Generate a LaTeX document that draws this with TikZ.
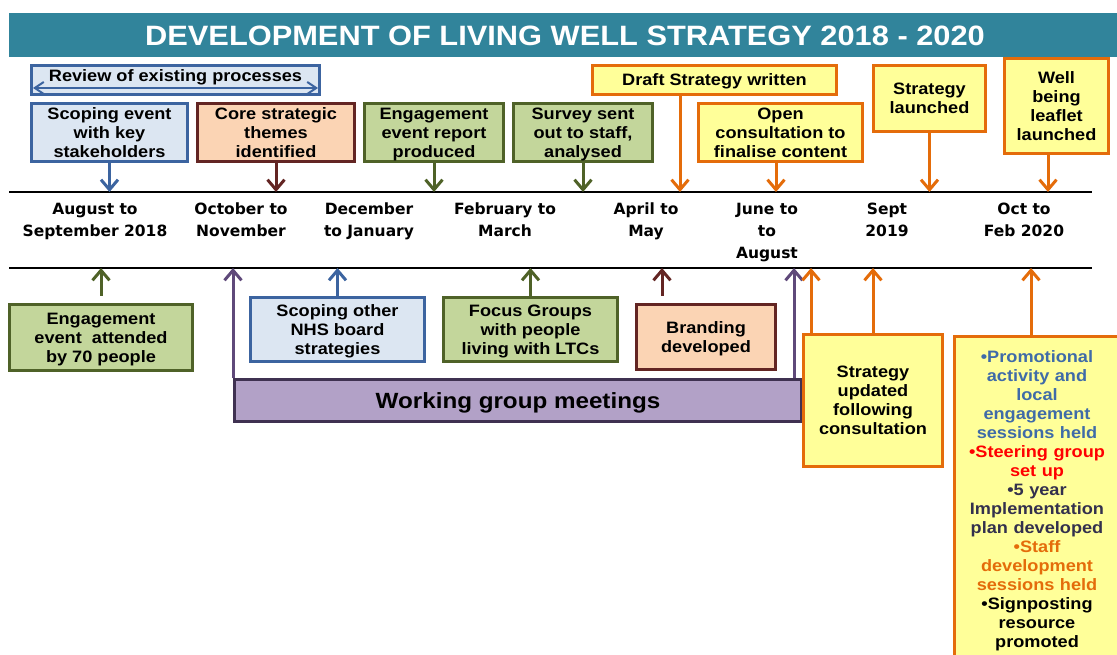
\documentclass[tikz,border=0pt]{standalone}
\usepackage{fontspec}
\setmainfont{Liberation Sans}[FakeStretch=1.1]
\newfontfamily\monthfont{DejaVu Sans}
\usetikzlibrary{arrows.meta}

\definecolor{titleteal}{HTML}{31849B}
\definecolor{blueline}{HTML}{3C64A0}
\definecolor{bluefill}{HTML}{DCE6F2}
\definecolor{redline}{HTML}{632523}
\definecolor{peachfill}{HTML}{FBD4B4}
\definecolor{greenline}{HTML}{4F6228}
\definecolor{greenfill}{HTML}{C3D69B}
\definecolor{orangeline}{HTML}{E46C0A}
\definecolor{yellowfill}{HTML}{FFFF99}
\definecolor{purpleline}{HTML}{3F3151}
\definecolor{purplearrow}{HTML}{5F497A}
\definecolor{purplefill}{HTML}{B2A1C7}
\definecolor{promoblue}{HTML}{3F6BA8}
\definecolor{plandark}{HTML}{33304D}

\begin{document}
\begin{tikzpicture}[x=1pt,y=-1pt,
    box/.style={draw, line width=3pt, align=center, inner sep=0pt, text depth=0pt, font=\bfseries\fontsize{16.5}{19}\selectfont},
    bluebox/.style={box, draw=blueline, fill=bluefill},
    redbox/.style={box, draw=redline, fill=peachfill},
    greenbox/.style={box, draw=greenline, fill=greenfill},
    yellowbox/.style={box, draw=orangeline, fill=yellowfill},
    month/.style={anchor=north, inner sep=0pt, align=center, font=\monthfont\bfseries\fontsize{15.5}{22}\selectfont},
    arr/.style={draw=#1, line width=3pt, -{Straight Barb[length=10pt,width=17pt]}},
    dblarr/.style={draw=blueline, line width=2pt, {Straight Barb[length=9pt,width=12pt]}-{Straight Barb[length=9pt,width=12pt]}},
    tline/.style={line width=2.5pt}]
  \clip (0,0) rectangle (1117,655);
  \useasboundingbox (0,0) rectangle (1117,655);

  % title bar
  \node[fill=titleteal, minimum width=1112pt, minimum height=44pt, inner sep=0pt, text=white,
        font=\bfseries\fontsize{28}{30}\selectfont] (title) at (565,35.5) {DEVELOPMENT OF LIVING WELL STRATEGY 2018 - 2020};

  % time line
  \coordinate (top-l) at (9,192);  \coordinate (top-r) at (1092,192);
  \coordinate (bot-l) at (9,268);  \coordinate (bot-r) at (1092,268);
  \draw[tline] (top-l) -- (top-r);
  \draw[tline] (bot-l) -- (bot-r);

  \node[month] (aug) at (95,203) {August to\\September 2018};
  \node[month] (oct) at (241,203) {October to\\November};
  \node[month] (dec) at (369,203) {December\\to January};
  \node[month] (feb) at (505,203) {February to\\March};
  \node[month] (apr) at (646,203) {April to\\May};
  \node[month] (jun) at (767,203) {June to\\to\\August};
  \node[month] (sep) at (887,203) {Sept\\2019};
  \node[month] (octfeb) at (1024,203) {Oct to\\Feb 2020};

  % above the line
  \node[bluebox, minimum width=288pt, minimum height=29pt] (review) at (175.5,80) {};
  \node[anchor=base, inner sep=0pt, font=\bfseries\fontsize{16.5}{19}\selectfont] (review-txt) at (175.5,82) {Review of existing processes};
  \coordinate (review-l) at (33,88);  \coordinate (review-r) at (318,88);
  \draw[dblarr] (review-l) -- (review-r);

  \node[bluebox, minimum width=156pt, minimum height=58pt] (scoping) at (109.5,132.5) {Scoping event\\with key\\stakeholders};
  \node[redbox, minimum width=157pt, minimum height=58pt] (core) at (276,132.5) {Core strategic\\themes\\identified};
  \node[greenbox, minimum width=139pt, minimum height=58pt] (engrep) at (434,132.5) {Engagement\\event report\\produced};
  \node[greenbox, minimum width=139pt, minimum height=58pt] (survey) at (583,132.5) {Survey sent\\out to staff,\\analysed};
  \node[yellowbox, minimum width=244pt, minimum height=29pt] (draft) at (714.5,80) {Draft Strategy written};
  \node[yellowbox, minimum width=164pt, minimum height=58pt] (open) at (780.5,132.5) {Open\\consultation to\\finalise content};
  \node[yellowbox, minimum width=112pt, minimum height=66pt] (launched) at (929.5,98.5) {Strategy\\launched};
  \node[yellowbox, minimum width=104pt, minimum height=95pt] (leaflet) at (1056.5,106) {Well\\being\\leaflet\\launched};

  \coordinate (draft-t) at (680,192);
  \coordinate (open-t) at (776,192);
  \coordinate (leaflet-t) at (1048,192);
  \draw[arr=blueline] (scoping.south) -- (scoping.south |- top-l);
  \draw[arr=redline] (core.south) -- (core.south |- top-l);
  \draw[arr=greenline] (engrep.south) -- (engrep.south |- top-l);
  \draw[arr=greenline] (survey.south) -- (survey.south |- top-l);
  \draw[arr=orangeline] (draft.south -| draft-t) -- (draft-t);
  \draw[arr=orangeline] (open.south -| open-t) -- (open-t);
  \draw[arr=orangeline] (launched.south) -- (launched.south |- top-l);
  \draw[arr=orangeline] (leaflet.south -| leaflet-t) -- (leaflet-t);

  % below the line
  \node[greenbox, minimum width=183pt, minimum height=66pt] (engatt) at (101,337.5) {Engagement\\event\ \ attended\\by 70 people};
  \node[bluebox, minimum width=174pt, minimum height=64pt] (nhs) at (337.5,329.5) {Scoping other\\NHS board\\strategies};
  \node[greenbox, minimum width=174pt, minimum height=64pt] (focus) at (530.5,329.5) {Focus Groups\\with people\\living with LTCs};
  \node[redbox, minimum width=139pt, minimum height=65pt] (branding) at (706,337) {Branding\\developed};
  \node[box, draw=purpleline, fill=purplefill, minimum width=567pt, minimum height=42pt,
        font=\bfseries\fontsize{22}{24}\selectfont] (wg) at (518,400.5) {Working group meetings};
  \node[yellowbox, minimum width=139pt, minimum height=132pt] (updated) at (873,400.5) {Strategy\\updated\\following\\consultation};
  \node[yellowbox, anchor=north west, minimum width=180pt, minimum height=340pt] (promo) at (952.5,334.5) {};
  \node[anchor=north, inner sep=0pt, text width=172pt, align=center, font=\bfseries\fontsize{16.5}{19}\selectfont] (promo-txt) at (1037,350)
    {\color{promoblue}\textbullet Promotional\\activity and\\local\\engagement\\sessions held\\
     \color{red}\textbullet Steering group\\set up\\
     \color{plandark}\textbullet 5 year\\Implementation\\plan developed\\
     \color{orangeline}\textbullet Staff\\development\\sessions held\\
     \color{black}\textbullet Signposting\\resource\\promoted};

  \coordinate (wg-t) at (794,268);
  \coordinate (branding-t) at (662,268);
  \coordinate (updated-t) at (811,268);
  \coordinate (promo-t) at (1031,268);
  \draw[arr=greenline, shorten <=7pt] (engatt.north) -- (engatt.north |- bot-l);
  \draw[arr=blueline] (nhs.north) -- (nhs.north |- bot-l);
  \draw[arr=greenline] (focus.north) -- (focus.north |- bot-l);
  \draw[arr=redline, shorten <=7pt] (branding.north -| branding-t) -- (branding-t);
  \draw[arr=purplearrow] (wg.north west) -- (wg.north west |- bot-l);
  \draw[arr=purplearrow] (wg.north -| wg-t) -- (wg-t);
  \draw[arr=orangeline] (updated.north -| updated-t) -- (updated-t);
  \draw[arr=orangeline] (updated.north) -- (updated.north |- bot-l);
  \draw[arr=orangeline] (promo.north -| promo-t) -- (promo-t);
\end{tikzpicture}
\end{document}
